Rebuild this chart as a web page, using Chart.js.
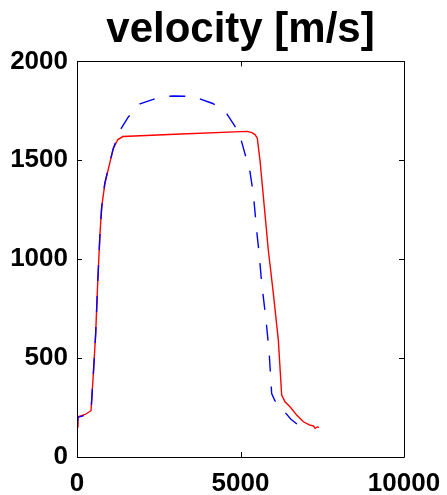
<!DOCTYPE html>
<html>
<head>
<meta charset="utf-8">
<script src="https://cdn.jsdelivr.net/npm/chart.js@4.4.1/dist/chart.umd.min.js"></script>
<style>
html,body{margin:0;padding:0;background:#fff;}
canvas{display:block;}
</style>
</head>
<body>
<canvas id="c" width="447" height="495"></canvas>
<script>
const titleText = 'velocity [m/s]';
const xTicks = [0, 5000, 10000];
const yTicks = [0, 500, 1000, 1500, 2000];

const redX = [0, 30, 250, 428, 500, 571, 632, 703, 755, 850, 958, 1110, 1250, 1400, 3000, 5200, 5350, 5443, 5514, 5596, 5720, 5851, 6004, 6157, 6259, 6361, 6514, 6718, 6922, 7106, 7229, 7280, 7350, 7400];
const redY = [153, 204, 215, 234, 422, 625, 877, 1130, 1264, 1380, 1455, 1560, 1605, 1620, 1632, 1646, 1640, 1630, 1612, 1500, 1280, 1045, 827, 591, 313, 279, 254, 212, 178, 162, 157, 145, 152, 150];

const blueX = [0, 30, 250, 428, 500, 571, 632, 703, 755, 850, 958, 1110, 1315, 1570, 1927, 2538, 2946, 3557, 4169, 4577, 4883, 5036, 5291, 5392, 5514, 5566, 5648, 5770, 5872, 5953, 6050, 6259, 6535, 6922, 6990, 7075];
const blueY = [150, 200, 212, 230, 420, 622, 875, 1128, 1262, 1385, 1460, 1560, 1652, 1719, 1785, 1820, 1825, 1823, 1786, 1736, 1659, 1593, 1441, 1330, 1113, 1037, 877, 709, 540, 321, 285, 246, 192, 141, 140, 150];

const toPts = (xs, ys) => xs.map((x, i) => ({x: x, y: ys[i]}));
const FONT = 'Liberation Sans, Arial, Helvetica, sans-serif';

const boxPlugin = {
  id: 'boxTicks',
  afterDatasetsDraw(chart) {
    const {ctx, chartArea: a, scales: {x, y}} = chart;
    const L = 5;
    ctx.save();
    ctx.strokeStyle = '#000';
    ctx.lineWidth = 1;
    ctx.beginPath();
    ctx.rect(Math.round(a.left) + 0.5, Math.round(a.top) + 0.5, Math.round(a.right - a.left), Math.round(a.bottom - a.top));
    xTicks.forEach(v => {
      const px = Math.round(x.getPixelForValue(v)) + 0.5;
      ctx.moveTo(px, a.bottom); ctx.lineTo(px, a.bottom - L);
      ctx.moveTo(px, a.top); ctx.lineTo(px, a.top + L);
    });
    yTicks.forEach(v => {
      const py = Math.round(y.getPixelForValue(v)) + 0.5;
      ctx.moveTo(a.left, py); ctx.lineTo(a.left + L, py);
      ctx.moveTo(a.right, py); ctx.lineTo(a.right - L, py);
    });
    ctx.stroke();
    ctx.restore();
  }
};

new Chart(document.getElementById('c'), {
  type: 'line',
  data: {
    datasets: [
      {
        data: toPts(blueX, blueY),
        borderColor: '#0000ff',
        borderWidth: 1.4,
        borderDash: [16, 15],
        pointRadius: 0,
        fill: false,
        tension: 0
      },
      {
        data: toPts(redX, redY),
        borderColor: '#ff0000',
        borderWidth: 1.4,
        pointRadius: 0,
        fill: false,
        tension: 0
      }
    ]
  },
  options: {
    responsive: false,
    animation: false,
    layout: {padding: {left: 0, right: 43, top: 0, bottom: 0}},
    plugins: {
      legend: {display: false},
      tooltip: {enabled: false},
      title: {
        display: true,
        text: titleText,
        fullSize: false,
        color: '#000',
        font: {family: FONT, size: 42, weight: 'bold', lineHeight: 1.2},
        padding: {top: 5, bottom: 6}
      }
    },
    scales: {
      x: {
        type: 'linear',
        min: 0, max: 10000,
        afterBuildTicks: s => { s.ticks = xTicks.map(v => ({value: v})); },
        afterFit: s => { s.height = 38; s.paddingLeft = 0; s.paddingRight = 0; },
        grid: {display: false, drawTicks: false},
        border: {display: false},
        ticks: {color: '#000', padding: 11, maxRotation: 0, callback: v => String(v), font: {family: FONT, size: 26, weight: 'bold'}}
      },
      y: {
        min: 0, max: 2000,
        afterBuildTicks: s => { s.ticks = yTicks.map(v => ({value: v})); },
        afterFit: s => { s.width = 77; s.paddingTop = 0; s.paddingBottom = 0; },
        grid: {display: false, drawTicks: false},
        border: {display: false},
        ticks: {color: '#000', padding: 9, callback: v => String(v), font: {family: FONT, size: 26, weight: 'bold'}}
      }
    }
  },
  plugins: [boxPlugin]
});
</script>
</body>
</html>
